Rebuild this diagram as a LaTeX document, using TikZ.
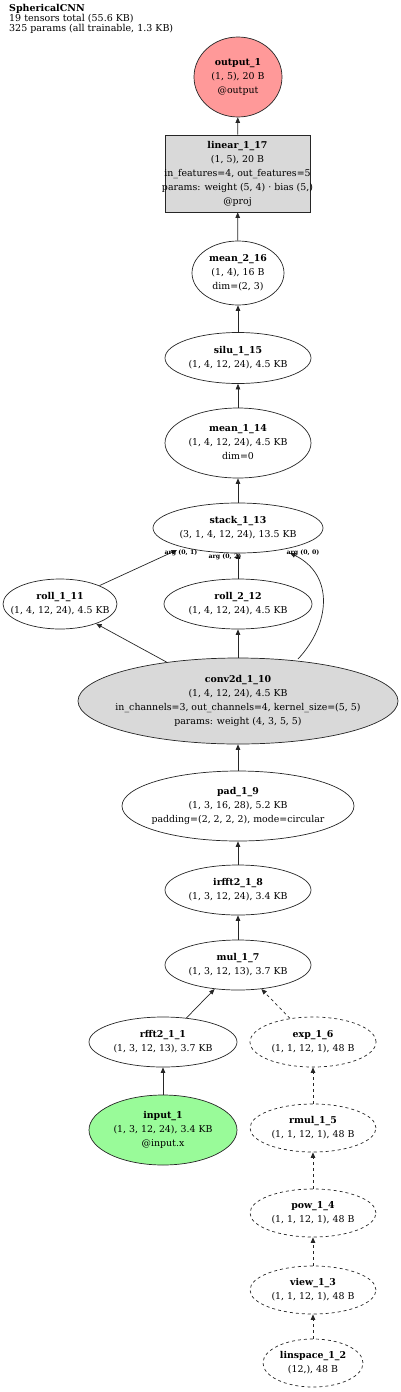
\documentclass[tikz,border=0pt]{standalone}
\usepackage{fontspec}
\setmainfont{DejaVu Serif}
\usetikzlibrary{shapes.geometric,arrows.meta}
\definecolor{outred}{HTML}{FF9999}
\definecolor{ingreen}{HTML}{99FB99}
\definecolor{opgray}{HTML}{D9D9D9}
\newcommand\zb[1]{\makebox[0pt]{\begin{tabular}{@{}c@{}}#1\end{tabular}}}
\tikzset{
  nd/.style={ellipse, draw=black!85, line width=0.7pt, inner sep=0pt,
    font=\fontsize{9.4}{14}\selectfont},
  dnd/.style={nd, dashed},
  bx/.style={rectangle, draw=black!85, line width=0.7pt, inner sep=0pt,
    font=\fontsize{9.4}{14}\selectfont, fill=opgray},
  ed/.style={draw=black!85, line width=0.7pt, -{Triangle[length=5.5pt,width=4.5pt]}},
  ded/.style={ed, dashed},
  al/.style={font=\fontsize{6.2}{7}\selectfont\bfseries, inner sep=0pt}
}
\begin{document}
\begin{tikzpicture}[x=1pt,y=-1pt]
\useasboundingbox (0,0) rectangle (400,1392);
\node[anchor=north west, align=left, inner sep=0pt, font=\fontsize{9.5}{10}\selectfont] (title) at (9,4)
  {\textbf{SphericalCNN}\\19 tensors total (55.6 KB)\\325 params (all trainable, 1.3 KB)};

\node[nd, fill=outred, minimum width=88pt, minimum height=80pt] (out) at (238,77)
  {\zb{\textbf{output\_1}\\(1, 5), 20 B\\@output}};
\node[bx, minimum width=145pt, minimum height=77pt] (lin) at (237.5,173.5)
  {\zb{\textbf{linear\_1\_17}\\(1, 5), 20 B\\in\_features=4, out\_features=5\\params: weight (5, 4) · bias (5,)\\@proj}};
\node[nd, minimum width=92pt, minimum height=64pt] (m2) at (238,273)
  {\zb{\textbf{mean\_2\_16}\\(1, 4), 16 B\\dim=(2, 3)}};
\node[nd, minimum width=146pt, minimum height=51pt] (silu) at (238,358)
  {\zb{\textbf{silu\_1\_15}\\(1, 4, 12, 24), 4.5 KB}};
\node[nd, minimum width=146pt, minimum height=70pt] (m1) at (238,443)
  {\zb{\textbf{mean\_1\_14}\\(1, 4, 12, 24), 4.5 KB\\dim=0}};
\node[nd, minimum width=170pt, minimum height=50pt] (stack) at (238,528)
  {\zb{\textbf{stack\_1\_13}\\(3, 1, 4, 12, 24), 13.5 KB}};
\node[nd, minimum width=114pt, minimum height=50pt] (r1) at (60,604)
  {\zb{\textbf{roll\_1\_11}\\(1, 4, 12, 24), 4.5 KB}};
\node[nd, minimum width=148pt, minimum height=50pt] (r2) at (238,604)
  {\zb{\textbf{roll\_2\_12}\\(1, 4, 12, 24), 4.5 KB}};
\node[nd, fill=opgray, minimum width=320pt, minimum height=86pt] (conv) at (238,701)
  {\zb{\textbf{conv2d\_1\_10}\\(1, 4, 12, 24), 4.5 KB\\in\_channels=3, out\_channels=4, kernel\_size=(5, 5)\\params: weight (4, 3, 5, 5)}};
\node[nd, minimum width=232pt, minimum height=70pt] (pad) at (238,806)
  {\zb{\textbf{pad\_1\_9}\\(1, 3, 16, 28), 5.2 KB\\padding=(2, 2, 2, 2), mode=circular}};
\node[nd, minimum width=146pt, minimum height=50pt] (irf) at (238,890)
  {\zb{\textbf{irfft2\_1\_8}\\(1, 3, 12, 24), 3.4 KB}};
\node[nd, minimum width=146pt, minimum height=50pt] (mul) at (238,965)
  {\zb{\textbf{mul\_1\_7}\\(1, 3, 12, 13), 3.7 KB}};
\node[nd, minimum width=148pt, minimum height=50pt] (rf) at (163,1042)
  {\zb{\textbf{rfft2\_1\_1}\\(1, 3, 12, 13), 3.7 KB}};
\node[dnd, minimum width=126pt, minimum height=50pt] (exp) at (313,1042)
  {\zb{\textbf{exp\_1\_6}\\(1, 1, 12, 1), 48 B}};
\node[nd, fill=ingreen, minimum width=148pt, minimum height=70pt] (in) at (163,1130)
  {\zb{\textbf{input\_1}\\(1, 3, 12, 24), 3.4 KB\\@input.x}};
\node[dnd, minimum width=126pt, minimum height=48pt] (rmul) at (313,1128)
  {\zb{\textbf{rmul\_1\_5}\\(1, 1, 12, 1), 48 B}};
\node[dnd, minimum width=126pt, minimum height=48pt] (pow) at (313,1213)
  {\zb{\textbf{pow\_1\_4}\\(1, 1, 12, 1), 48 B}};
\node[dnd, minimum width=126pt, minimum height=48pt] (view) at (313,1290)
  {\zb{\textbf{view\_1\_3}\\(1, 1, 12, 1), 48 B}};
\node[dnd, minimum width=100pt, minimum height=48pt] (lsp) at (313,1363)
  {\zb{\textbf{linspace\_1\_2}\\(12,), 48 B}};

\coordinate (s1) at (177,550);
\coordinate (cstart) at (298,659);
\coordinate (send) at (290,553);

\draw[ed] (lin) -- (out);
\draw[ed] (m2) -- (lin);
\draw[ed] (silu) -- (m2);
\draw[ed] (m1) -- (silu);
\draw[ed] (stack) -- (m1);
\draw[ed] (r1.25) -- (s1);
\draw[ed] (r2) -- (stack);
\draw[ed] (conv) -- (r1);
\draw[ed] (conv) -- (r2);
\draw[ed] (pad) -- (conv);
\draw[ed] (irf) -- (pad);
\draw[ed] (mul) -- (irf);
\draw[ed] (rf) -- (mul);
\draw[ded] (exp) -- (mul);
\draw[ed] (in) -- (rf);
\draw[ded] (rmul) -- (exp);
\draw[ded] (pow) -- (rmul);
\draw[ded] (view) -- (pow);
\draw[ded] (lsp) -- (view);
\draw[ed] (cstart) .. controls (330,625) and (335,575) .. (send);

\node[al] (l1) at (181,553) {arg (0, 1)};
\node[al] (l2) at (225,557) {arg (0, 2)};
\node[al] (l0) at (303,553) {arg (0, 0)};
\end{tikzpicture}
\end{document}
